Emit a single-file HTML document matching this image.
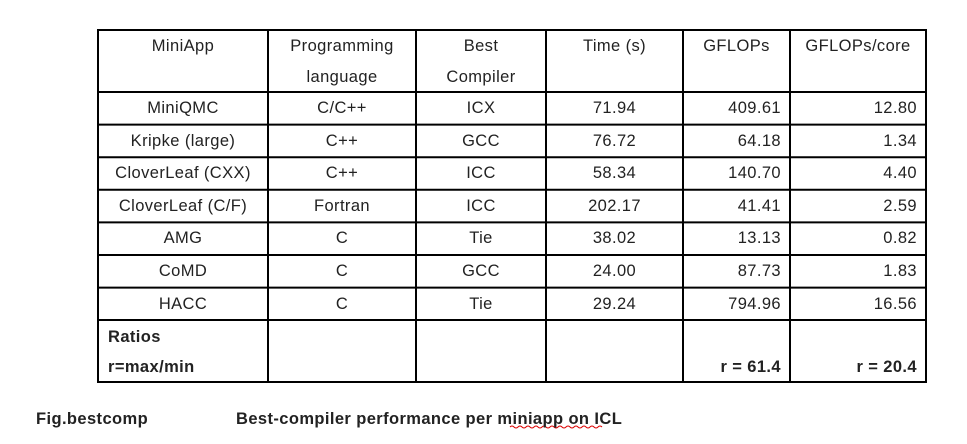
<!DOCTYPE html>
<html><head><style>
body{margin:0;background:#fff;width:967px;height:444px;position:relative;font-family:"Liberation Sans",sans-serif;color:#222;}
.t{position:absolute;font-size:16.5px;letter-spacing:0.4px;white-space:nowrap;line-height:20px;}
.l{position:absolute;background:#000;}
.b{font-weight:bold;}
</style></head><body>
<svg width="967" height="444" style="position:absolute;left:0;top:0">
<g stroke="#000" stroke-width="2">
<rect x="98" y="30" width="828" height="352" fill="none"/>
<line x1="268" y1="30" x2="268" y2="382"/>
<line x1="416" y1="30" x2="416" y2="382"/>
<line x1="546" y1="30" x2="546" y2="382"/>
<line x1="683" y1="30" x2="683" y2="382"/>
<line x1="790" y1="30" x2="790" y2="382"/>
<line x1="98" y1="92" x2="926" y2="92"/>
<line x1="98" y1="124.6" x2="926" y2="124.6"/>
<line x1="98" y1="157.2" x2="926" y2="157.2"/>
<line x1="98" y1="189.8" x2="926" y2="189.8"/>
<line x1="98" y1="222.4" x2="926" y2="222.4"/>
<line x1="98" y1="255" x2="926" y2="255"/>
<line x1="98" y1="287.6" x2="926" y2="287.6"/>
<line x1="98" y1="320" x2="926" y2="320"/>
</g>
<path d="M510 427 q2 -2 4 0 t4 0 t4 0 t4 0 t4 0 t4 0 t4 0 t4 0 t4 0 t4 0 t4 0 t4 0 t4 0 t4 0 t4 0 t4 0 t4 0 t4 0 t4 0 t4 0 t4 0 t4 0 t4 0" stroke="#d00" fill="none" stroke-width="1"/>
</svg>
<div id="c"></div>
<script>
var cols=[[98,268],[268,416],[416,546],[546,683],[683,790],[790,926]];
function put(txt,ci,y,align,bold){var d=document.createElement('div');d.className='t'+(bold?' b':'');d.textContent=txt;d.style.top=y+'px';var c=cols[ci];
if(align=='r'){d.style.right=(967-c[1]+9)+'px';}else if(align=='l'){d.style.left=(c[0]+10)+'px';}else{d.style.left=c[0]+'px';d.style.width=(c[1]-c[0])+'px';d.style.textAlign='center';}
document.body.appendChild(d);}
put('MiniApp',0,36);put('Programming',1,36);put('language',1,67);put('Best',2,36);put('Compiler',2,67);put('Time (s)',3,36);put('GFLOPs',4,36);put('GFLOPs/core',5,36);
var rows=[['MiniQMC','C/C++','ICX','71.94','409.61','12.80'],['Kripke (large)','C++','GCC','76.72','64.18','1.34'],['CloverLeaf (CXX)','C++','ICC','58.34','140.70','4.40'],['CloverLeaf (C/F)','Fortran','ICC','202.17','41.41','2.59'],['AMG','C','Tie','38.02','13.13','0.82'],['CoMD','C','GCC','24.00','87.73','1.83'],['HACC','C','Tie','29.24','794.96','16.56']];
rows.forEach(function(r,i){var y=98+i*32.6;for(var j=0;j<6;j++)put(r[j],j,y,j>=4?'r':'c');});
put('Ratios',0,327,'l',1);put('r=max/min',0,357,'l',1);put('r = 61.4',4,357,'r',1);put('r = 20.4',5,357,'r',1);
</script>
<div class="t b" style="left:36px;top:409px">Fig.bestcomp</div>
<div class="t b" style="left:236px;top:409px">Best-compiler performance per miniapp on ICL</div>
</body></html>
